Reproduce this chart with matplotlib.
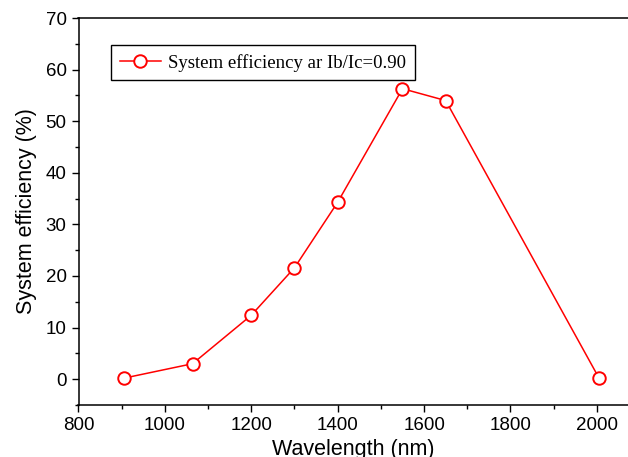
import matplotlib
matplotlib.use("Agg")
import matplotlib.pyplot as plt
from matplotlib.ticker import MultipleLocator

wellenlaenge = [905, 1064, 1200, 1300, 1400, 1550, 1650, 2005]
effizienz = [0.2, 3.0, 12.4, 21.6, 34.3, 56.3, 54.0, 0.2]
legenden_text = "System efficiency ar Ib/Ic=0.90"

plt.rcParams["font.family"] = ["Liberation Sans", "DejaVu Sans"]

fig = plt.figure(figsize=(6.28, 4.57), dpi=100)
ax = fig.add_axes([0.125, 0.1138, 0.875, 0.8468])

ax.plot(wellenlaenge, effizienz, color="red", linewidth=1.1,
        marker="o", markersize=9, markerfacecolor="white",
        markeredgecolor="red", markeredgewidth=1.4, label=legenden_text)

ax.set_xlim(800, 2072)
ax.set_ylim(-5, 70)
ax.xaxis.set_major_locator(MultipleLocator(200))
ax.xaxis.set_minor_locator(MultipleLocator(100))
ax.yaxis.set_major_locator(MultipleLocator(10))
ax.yaxis.set_minor_locator(MultipleLocator(5))

ax.tick_params(which="major", direction="out", length=5, width=1.0, labelsize=13.5)
ax.tick_params(which="minor", direction="out", length=3, width=1.0)
for seite in ["left", "bottom", "top"]:
    ax.spines[seite].set_linewidth(1.1)
ax.spines["right"].set_visible(False)

ax.set_xlabel("Wavelength (nm)", fontsize=15.5, labelpad=4)
ax.set_ylabel("System efficiency (%)", fontsize=15.5, labelpad=6)

leg = ax.legend(loc="upper left", bbox_to_anchor=(0.162, 0.921),
                bbox_transform=fig.transFigure, fancybox=False,
                edgecolor="black", framealpha=1,
                prop={"family": "Liberation Serif", "size": 13.5},
                handlelength=2.2, borderpad=0.45, handletextpad=0.4)
leg.get_frame().set_linewidth(1.0)

fig.savefig("out.png", dpi=100)
